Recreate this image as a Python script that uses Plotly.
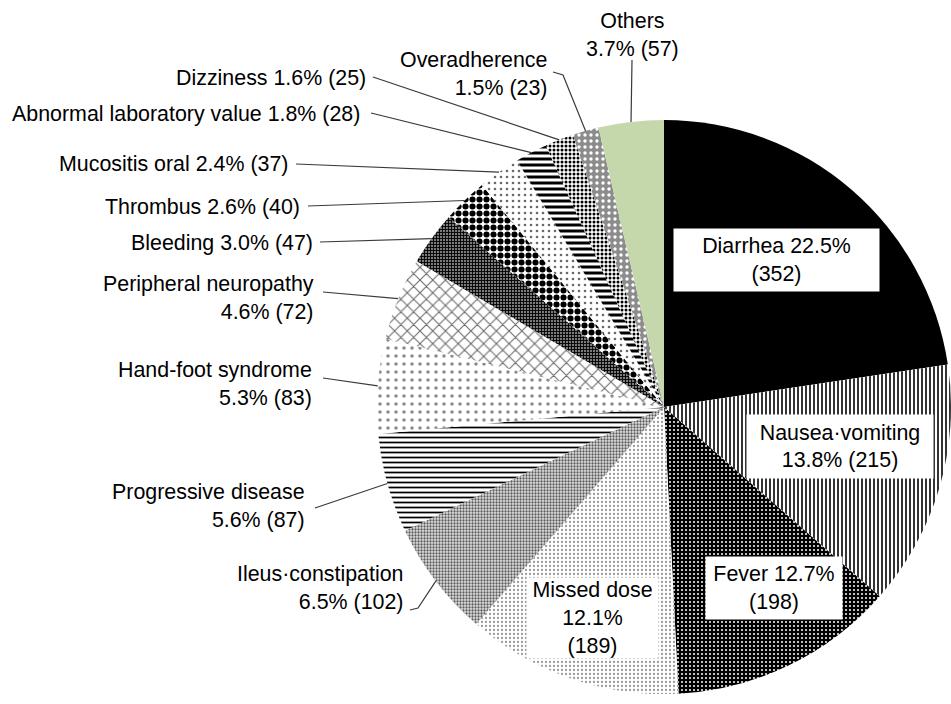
import math
import plotly.graph_objects as go

# ---------------- data ----------------
categories = ["Diarrhea", "Nausea·vomiting", "Fever", "Missed dose", "Ileus·constipation",
              "Progressive disease", "Hand-foot syndrome", "Peripheral neuropathy", "Bleeding",
              "Thrombus", "Mucositis oral", "Abnormal laboratory value", "Dizziness",
              "Overadherence", "Others"]
counts = [352, 215, 198, 189, 102, 87, 83, 72, 47, 40, 37, 28, 25, 23, 57]
percent_labels = ["22.5%", "13.8%", "12.7%", "12.1%", "6.5%", "5.6%", "5.3%", "4.6%", "3.0%",
                  "2.6%", "2.4%", "1.8%", "1.6%", "1.5%", "3.7%"]

# ---------------- layout constants ----------------
W, H = 951, 704
CX, CY, R = 664, 407, 287
FONT = dict(family="Arial, 'Liberation Sans', sans-serif", size=21.4, color="#000000")

# label line-break style: 0 one line, 1 name / pct (n), 2 name pct / (n), 3 three lines
label_style = {"Diarrhea": 2, "Nausea·vomiting": 1, "Fever": 2, "Missed dose": 3,
               "Ileus·constipation": 1, "Progressive disease": 1, "Hand-foot syndrome": 1,
               "Peripheral neuropathy": 1, "Bleeding": 0, "Thrombus": 0, "Mucositis oral": 0,
               "Abnormal laboratory value": 0, "Dizziness": 0, "Overadherence": 1, "Others": 1}

# boxed labels inside the pie: centre px, box size
inside_boxes = {"Diarrhea": (776, 260, 205, 62),
                "Nausea·vomiting": (840, 447, 186, 63),
                "Fever": (774, 588, 136, 62),
                "Missed dose": (592, 618, 131, 80)}

# outside labels: anchor px (x, y, xanchor, align)
outside_labels = {"Ileus·constipation": (404, 588, "right", "right"),
                  "Progressive disease": (306, 506, "right", "right"),
                  "Hand-foot syndrome": (313, 384, "right", "right"),
                  "Peripheral neuropathy": (315, 298, "right", "right"),
                  "Bleeding": (314, 243, "right", "right"),
                  "Thrombus": (301, 207, "right", "right"),
                  "Mucositis oral": (289, 164, "right", "right"),
                  "Abnormal laboratory value": (361, 114, "right", "right"),
                  "Dizziness": (367, 78, "right", "right"),
                  "Overadherence": (548, 74, "right", "right"),
                  "Others": (632, 35, "center", "center")}

# leader line start (and bend) points in px, ending at the slice edge
leaders = {"Ileus·constipation": [(410, 610), (418, 608)],
           "Progressive disease": [(315, 508)],
           "Hand-foot syndrome": [(323, 378)],
           "Peripheral neuropathy": [(323, 292)],
           "Bleeding": [(320, 242)],
           "Thrombus": [(308, 206)],
           "Mucositis oral": [(296, 164)],
           "Abnormal laboratory value": [(371, 113)],
           "Dizziness": [(373, 77)],
           "Overadherence": [(553, 72), (563, 75)],
           "Others": [(632, 60)]}

# slice styles
base_color = ["#000000", "#ffffff", "#000000", "#ffffff", "#e2e2e2", "#ffffff", "#ffffff",
              "#ffffff", "#7a7a7a", "#ffffff", "#ffffff", "#ffffff", "#ffffff", "#8c8c8c", "#c5d8ab"]
fg_color = ["#000000", "#000000", "#ffffff", "#9a9a9a", "#5a5a5a", "#000000", "#8a8a8a",
            "#6a6a6a", "#000000", "#000000", "#6a6a6a", "#000000", "#000000", "#ffffff", "#c5d8ab"]
pat_shape = ["", "|", ".", ".", ".", "-", ".", "x", "+", ".", ".", "-", ".", ".", ""]
pat_size = [6, 4, 4, 4, 3, 5, 8, 9, 3, 7, 6, 6, 4, 6, 6]
pat_solid = [0.3, 0.4, 0.2, 0.25, 0.45, 0.35, 0.15, 0.22, 0.5, 0.6, 0.15, 0.5, 0.45, 0.25, 0.3]


def px2paper(x, y):
    return x / W, 1 - y / H


fig = go.Figure(go.Pie(
    labels=categories, values=counts, sort=False, direction="clockwise", rotation=0,
    textinfo="none", showlegend=False,
    marker=dict(colors=base_color, line=dict(width=0),
                pattern=dict(shape=pat_shape, fgcolor=fg_color, bgcolor=base_color,
                             size=pat_size, solidity=pat_solid, fillmode="replace")),
    domain=dict(x=[(CX - R) / W, min(1, (CX + R) / W)],
                y=[1 - (CY + R) / H, 1 - (CY - R) / H]),
))


def label_text(i):
    name, pct, n = categories[i], percent_labels[i], counts[i]
    s = label_style[name]
    if s == 0:
        return f"{name} {pct} ({n})"
    if s == 1:
        return f"{name}<br>{pct} ({n})"
    if s == 2:
        return f"{name} {pct}<br>({n})"
    return f"{name}<br>{pct}<br>({n})"


total = sum(counts)
cum = 0
annotations, shapes = [], []
for i, name in enumerate(categories):
    mid = (cum + counts[i] / 2) / total
    cum += counts[i]
    theta = 2 * math.pi * mid
    ex, ey = CX + R * math.sin(theta), CY - R * math.cos(theta)
    text = label_text(i)
    if name in inside_boxes:
        bx, by, bw, bh = inside_boxes[name]
        x, y = px2paper(bx, by)
        annotations.append(dict(x=x, y=y, xref="paper", yref="paper", text=text,
                                showarrow=False, font=FONT, bgcolor="#ffffff",
                                width=bw, height=bh, align="center",
                                xanchor="center", yanchor="middle", borderpad=0))
    else:
        lx, ly, xa, al = outside_labels[name]
        x, y = px2paper(lx, ly)
        annotations.append(dict(x=x, y=y, xref="paper", yref="paper", text=text,
                                showarrow=False, font=FONT, align=al,
                                xanchor=xa, yanchor="middle", borderpad=0))
        pts = leaders[name] + [(ex, ey)]
        path = ""
        for k, (px_, py_) in enumerate(pts):
            qx, qy = px2paper(px_, py_)
            path += ("M" if k == 0 else " L") + f" {qx:.5f},{qy:.5f}"
        shapes.append(dict(type="path", path=path, xref="paper", yref="paper",
                           line=dict(color="#3a3a3a", width=1.2)))

fig.update_layout(width=W, height=H, margin=dict(l=0, r=0, t=0, b=0),
                  paper_bgcolor="#ffffff", plot_bgcolor="#ffffff",
                  annotations=annotations, shapes=shapes, font=FONT)

fig.write_html("out.html", config={"displayModeBar": False},
               post_script="document.body.style.margin='0px';")
